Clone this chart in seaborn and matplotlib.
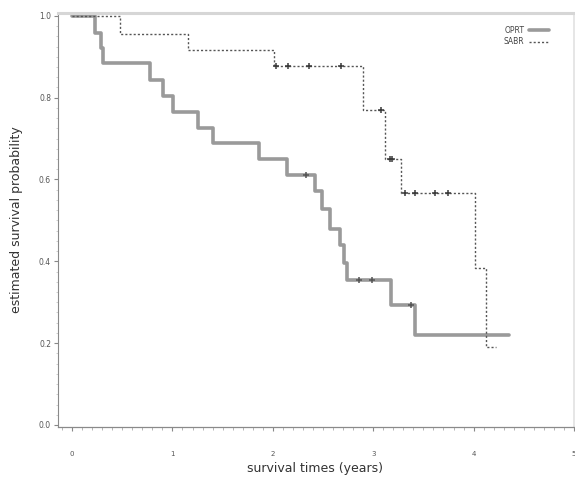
import matplotlib
matplotlib.use("Agg")
import matplotlib.pyplot as plt
from matplotlib.ticker import MultipleLocator
import seaborn as sns
import pandas as pd

# Kaplan-Meier step values
oprt_time = [0, 0.23, 0.29, 0.31, 0.78, 0.91, 1.01, 1.25, 1.40, 1.86, 2.14, 2.42, 2.49, 2.57, 2.67, 2.71, 2.74, 3.18, 3.42, 4.35]
oprt_surv = [1.0, 0.958, 0.922, 0.885, 0.843, 0.803, 0.765, 0.726, 0.690, 0.651, 0.612, 0.573, 0.527, 0.480, 0.439, 0.395, 0.354, 0.293, 0.220, 0.220]
oprt_cens_time = [2.33, 2.86, 2.99, 3.38]
oprt_cens_surv = [0.612, 0.354, 0.354, 0.293]

sabr_time = [0, 0.48, 1.15, 2.01, 2.90, 3.12, 3.28, 4.01, 4.12, 4.22]
sabr_surv = [1.0, 0.956, 0.917, 0.878, 0.771, 0.649, 0.566, 0.383, 0.190, 0.190]
sabr_cens_time = [2.03, 2.15, 2.36, 2.68, 3.08, 3.17, 3.19, 3.32, 3.42, 3.62, 3.74]
sabr_cens_surv = [0.878, 0.878, 0.878, 0.878, 0.771, 0.649, 0.649, 0.566, 0.566, 0.566, 0.566]

oprt = pd.DataFrame({"time": oprt_time, "surv": oprt_surv})
sabr = pd.DataFrame({"time": sabr_time, "surv": sabr_surv})

sns.set_style("white")
plt.rcParams["font.family"] = ["DejaVu Sans"]

fig = plt.figure(figsize=(5.75, 4.84), dpi=100)
ax = fig.add_axes([58 / 575, 1 - 427 / 484, 516 / 575, 414 / 484])

sns.lineplot(data=oprt, x="time", y="surv", ax=ax, drawstyle="steps-post",
             color="#9a9a9a", linewidth=2.6, estimator=None, label="OPRT")
sns.lineplot(data=sabr, x="time", y="surv", ax=ax, drawstyle="steps-post",
             color="#555555", linewidth=1.0, linestyle=(0, (1.5, 1.5)),
             estimator=None, label="SABR")

# censoring marks
ax.scatter(oprt_cens_time, oprt_cens_surv, marker="+", s=14, linewidths=1.1, color="#555555", zorder=3)
ax.scatter(sabr_cens_time, sabr_cens_surv, marker="+", s=14, linewidths=1.1, color="#3a3a3a", zorder=3)

ax.set_xlim(-0.14, 5.0)
ax.set_ylim(-0.005, 1.007)
ax.xaxis.set_major_locator(MultipleLocator(1))
ax.xaxis.set_minor_locator(MultipleLocator(0.1))
ax.yaxis.set_major_locator(MultipleLocator(0.2))
ax.yaxis.set_minor_locator(MultipleLocator(0.025))
ax.yaxis.set_major_formatter(lambda v, p: f"{v:.1f}")

ax.tick_params(axis="x", which="major", length=3, width=0.8, pad=14, labelsize=5,
               colors="#888888", labelcolor="#555555", bottom=True, direction="out")
ax.tick_params(axis="x", which="minor", length=2, width=0.6, colors="#aaaaaa", bottom=True)
ax.tick_params(axis="y", which="major", length=3, width=0.8, pad=2, labelsize=5.5,
               colors="#888888", labelcolor="#555555", left=True, direction="out")
ax.tick_params(axis="y", which="minor", length=1.5, width=0.5, colors="#bbbbbb", left=True)

ax.spines["left"].set_color("#8a8a8a")
ax.spines["left"].set_linewidth(0.8)
ax.spines["left"].set_linestyle((0, (2, 1)))
ax.spines["bottom"].set_color("#8a8a8a")
ax.spines["bottom"].set_linewidth(0.9)
ax.spines["top"].set_color("#d6d6d6")
ax.spines["top"].set_linewidth(2.2)
ax.spines["right"].set_color("#e2e2e2")
ax.spines["right"].set_linewidth(1.2)

ax.set_xlabel("survival times (years)", fontsize=9, color="#333333")
ax.set_ylabel("estimated survival probability", fontsize=9, color="#333333")
ax.xaxis.set_label_coords((315 - 58) / 516, -0.085)
ax.yaxis.set_label_coords(-0.068, 0.5)

ax.legend(loc="upper right", bbox_to_anchor=(0.965, 0.985), frameon=False,
          markerfirst=False, fontsize=5.5, handlelength=2.6, handletextpad=0.6,
          labelspacing=0.3, labelcolor="#444444")

fig.savefig("out.png", dpi=100)
